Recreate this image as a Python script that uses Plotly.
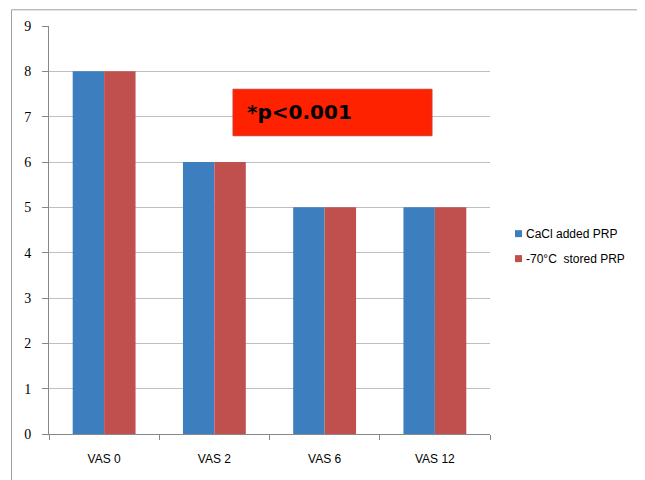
import plotly.graph_objects as go

categories = ["VAS 0", "VAS 2", "VAS 6", "VAS 12"]
cacl_added = [8, 6, 5, 5]
stored_70 = [8, 6, 5, 5]
series_names = ["CaCl added PRP", "-70°C  stored PRP"]
series_colors = ["#3D7EBF", "#C0504D"]
y_ticks = list(range(0, 10))

# page body has an 8px margin; work in figure coordinates = screen - 8
OFF = 8
W, H = 645 - OFF, 480 - OFF
L, R, T, B = 49 - OFF, 490 - OFF, 25.7 - OFF, 434 - OFF


def px(x):
    return (x - OFF - L) / (R - L)


def py(y):
    return (B - (y - OFF)) / (B - T)


fig = go.Figure()
for name, vals, col in zip(series_names, [cacl_added, stored_70], series_colors):
    fig.add_trace(go.Bar(x=categories, y=vals, name=name,
                         marker=dict(color=col, line=dict(width=0))))

shapes = [
    dict(type="line", xref="paper", yref="paper", x0=px(11.5), x1=px(11.5),
         y0=py(485), y1=py(9.5), line=dict(color="#A0A0A0", width=1)),
    dict(type="line", xref="paper", yref="paper", x0=px(11.5), x1=px(650),
         y0=py(9.5), y1=py(9.5), line=dict(color="#A0A0A0", width=1)),
    dict(type="rect", xref="paper", yref="paper", x0=px(233), x1=px(432),
         y0=py(135.5), y1=py(89), fillcolor="#FF2200",
         line=dict(color="#D03A2A", width=1), layer="above"),
]
annotations = [
    dict(text="<b>*p<0.001</b>", xref="paper", yref="paper", x=px(245), y=py(112),
         xanchor="left", yanchor="middle", showarrow=False,
         font=dict(size=20, color="#000", family="DejaVu Sans, sans-serif")),
]
# manual legend
leg_y = [233.5, 258.5]
for name, col, yy in zip(series_names, series_colors, leg_y):
    shapes.append(dict(type="rect", xref="paper", yref="paper",
                       x0=px(515), x1=px(522), y0=py(yy + 3.5), y1=py(yy - 3.5),
                       fillcolor=col, line=dict(width=0)))
    annotations.append(dict(text=name, xref="paper", yref="paper", x=px(524), y=py(yy),
                            xanchor="left", yanchor="middle", showarrow=False,
                            font=dict(size=12, color="#000")))

fig.update_layout(
    width=W, height=H,
    margin=dict(l=L, r=W - R, t=T, b=H - B, pad=0),
    paper_bgcolor="white", plot_bgcolor="white",
    barmode="group", bargap=0.43, bargroupgap=0,
    font=dict(family="Liberation Sans, Arial, sans-serif", size=12, color="#000"),
    showlegend=False,
    xaxis=dict(showline=True, linecolor="#888888", linewidth=1,
               tickson="boundaries", ticks="outside", ticklen=5, tickcolor="#888888",
               showgrid=False, tickfont=dict(size=12), ticklabelstandoff=14,
               fixedrange=True),
    yaxis=dict(range=[0, 9], tickvals=y_ticks, showline=True, linecolor="#888888",
               linewidth=1, ticks="outside", ticklen=6, tickcolor="#888888",
               showgrid=True, gridcolor="#BFBFBF", gridwidth=1, zeroline=False,
               tickfont=dict(family="Liberation Serif, Times New Roman, serif", size=14),
               ticklabelstandoff=8),
    shapes=shapes,
    annotations=annotations,
)

fig.write_html("out.html")
